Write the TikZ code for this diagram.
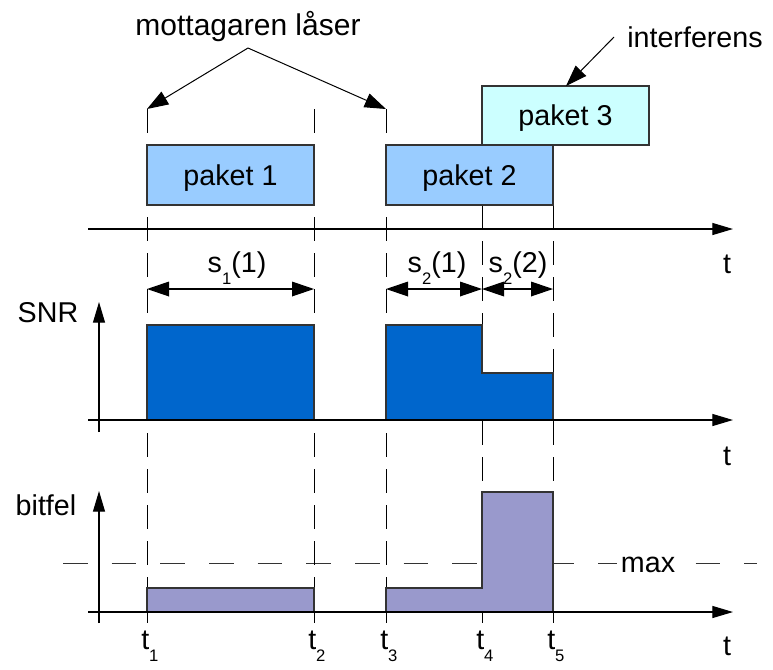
\documentclass[tikz,border=0pt]{standalone}
\usepackage{fontspec}
\setmainfont{Liberation Sans}
\usetikzlibrary{arrows.meta}
\definecolor{pkA}{HTML}{99CCFF}
\definecolor{pkB}{HTML}{CCFFFF}
\definecolor{snrc}{HTML}{0066CC}
\definecolor{bitc}{HTML}{9999CC}
\definecolor{edge}{HTML}{333333}
\newcommand\sbs[1]{\raisebox{-0.45em}{\fontsize{12.5}{13}\selectfont #1}}
\begin{document}
\begin{tikzpicture}[x=0.75pt,y=-0.75pt,
  txt/.style={inner sep=0pt,font=\fontsize{21.5}{26}\selectfont},
  pbox/.style={draw=edge,line width=0.8pt,minimum width=#1*0.75pt,minimum height=45pt,inner sep=0pt,text depth=0pt,font=\fontsize{21.5}{26}\selectfont},
  vdash/.style={line width=0.75pt,dash pattern=on 18pt off 9pt,draw=black},
  hdash/.style={line width=0.75pt,dash pattern=on 18.5pt off 18pt,draw=black!80},
  axis/.style={line width=0.9pt,-{Triangle[length=15.5pt,width=9pt]}},
  dim/.style={line width=0.9pt,{Triangle[length=16.5pt,width=11pt]}-{Triangle[length=16.5pt,width=11pt]}},
  lbl/.style={line width=0.75pt,-{Triangle[length=16pt,width=11pt]}},
  bar/.style={draw=edge,line width=0.8pt}]
\useasboundingbox (0,0) rectangle (773,669);

% guide line coordinates
\foreach \n/\x in {1/147,2/314,3/386,4/482,5/553}{
  \coordinate (b\n) at (\x,623);
}
\coordinate (u1) at (147,109); \coordinate (u2) at (314,109); \coordinate (u3) at (386,109);
\coordinate (u4) at (482,205); \coordinate (u5) at (553,205);

% max dashed line
\coordinate (m1) at (63,563); \coordinate (m2) at (757,563);
\draw[hdash] (m1) -- (m2);

% vertical dashed lines
\foreach \n in {1,...,5}{ \draw[vdash] (u\n) -- (b\n); }

% packets
\node[pbox=167,fill=pkB,minimum height=44.25pt] (p3) at (565.5,115.5) {paket 3};
\node[pbox=167,fill=pkA] (p1) at (230.5,175) {paket 1};
\node[pbox=167,fill=pkA] (p2) at (469.5,175) {paket 2};

% axes
\coordinate (a1s) at (88,229); \coordinate (a1e) at (733,229);
\draw[axis] (a1s) -- (a1e);
\coordinate (a2s) at (88,420); \coordinate (a2e) at (733,420);
\coordinate (v2s) at (99,432); \coordinate (v2e) at (99,302);
\coordinate (a3s) at (88,612); \coordinate (a3e) at (733,612);
\coordinate (v3s) at (99,623); \coordinate (v3e) at (99,491);

% SNR bars
\draw[bar,fill=snrc] (147,420) rectangle (314,325);
\draw[bar,fill=snrc] (386,420) -- (386,325) -- (482,325) -- (482,373) -- (553,373) -- (553,420) -- cycle;
% bitfel bars
\draw[bar,fill=bitc] (147,612) rectangle (314,588);
\draw[bar,fill=bitc] (386,612) -- (386,588) -- (482,588) -- (482,492) -- (553,492) -- (553,612) -- cycle;

\draw[axis] (a2s) -- (a2e);
\draw[axis] (v2s) -- (v2e);
\draw[axis] (a3s) -- (a3e);
\draw[axis] (v3s) -- (v3e);

% dimension arrows
\coordinate (d1) at (147,289); \coordinate (d2) at (314,289);
\coordinate (d3) at (386,289); \coordinate (d4) at (482,289); \coordinate (d5) at (553,289);
\draw[dim] (d1) -- (d2);
\draw[dim] (d3) -- (d4);
\draw[dim] (d4) -- (d5);
\node[txt,anchor=base] (s11) at (237,272) {s\sbs{1}(1)};
\node[txt,anchor=base] (s21) at (437,272) {s\sbs{2}(1)};
\node[txt,anchor=base] (s22) at (518,272) {s\sbs{2}(2)};

% labels
\node[txt,anchor=base,font=\fontsize{22.5}{26}\selectfont] (mott) at (248,35) {mottagaren låser};
\coordinate (apex) at (248,48);
\draw[lbl] (apex) -- (u1);
\draw[lbl] (apex) -- (u3);
\node[txt,anchor=base west] (intf) at (627,47) {interferens};
\coordinate (ia) at (614,37); \coordinate (ib) at (566,86);
\draw[lbl] (ia) -- (ib);

\node[txt,anchor=base] (tA) at (727,273) {t};
\node[txt,anchor=base] (tB) at (727,465) {t};
\node[txt,anchor=base] (tC) at (727,655) {t};
\node[txt,anchor=base] (snr) at (48,322) {SNR};
\node[txt,anchor=base] (bit) at (46,515) {bitfel};
\node[txt,anchor=base,fill=white,inner xsep=3pt] (mx) at (648,572) {max};

\foreach \n/\x in {1/147,2/314,3/386,4/482,5/553}{
  \node[txt,anchor=base west] (t\n) at (\x-6,649) {t\sbs{\n}};
}
\end{tikzpicture}
\end{document}
